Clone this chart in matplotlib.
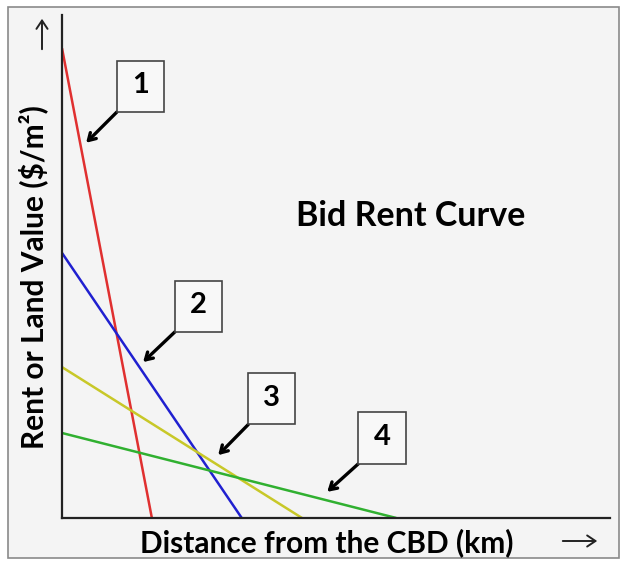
import matplotlib.pyplot as plt
from matplotlib.patches import Rectangle, FancyArrowPatch

# bid rent lines: intercept on the rent axis and on the distance axis
labels = ['1', '2', '3', '4']
colors = ['#e03030', '#2020d0', '#c8c828', '#30b030']
rent_at_cbd = [9.34, 5.27, 3.0, 1.69]
max_distance = [1.64, 3.28, 4.38, 6.1]

# numbered boxes (centre) and where their arrows point
box_x = [1.43, 2.49, 3.83, 5.84]
box_y = [8.58, 4.21, 2.37, 1.59]
tip_x = [0.44, 1.48, 2.85, 4.84]
tip_y = [7.46, 3.10, 1.25, 0.52]
box_w, box_h = 0.86, 1.02

plt.rcParams['font.family'] = ['Lato', 'DejaVu Sans']

fig = plt.figure(figsize=(6.26, 5.67), dpi=100)
fig.patch.set_facecolor('white')
fig.patches.append(Rectangle((8/626, 9/567), 611/626, 551/567, transform=fig.transFigure,
                             facecolor='#f4f4f4', edgecolor='#8a8a8a', lw=1.2, zorder=-10))

ax = fig.add_axes([62/626, 49/567, 548/626, 503/567])
ax.set_facecolor('none')
ax.set_xlim(0, 10)
ax.set_ylim(0, 10)
for s in ['top', 'right']:
    ax.spines[s].set_visible(False)
for s in ['left', 'bottom']:
    ax.spines[s].set_color('#222222')
    ax.spines[s].set_linewidth(1.6)
ax.set_xticks([])
ax.set_yticks([])

for c, r, d in zip(colors, rent_at_cbd, max_distance):
    ax.plot([0, d], [r, 0], color=c, lw=1.8, solid_capstyle='butt')

for lab, bx, by, tx, ty in zip(labels, box_x, box_y, tip_x, tip_y):
    ax.add_patch(Rectangle((bx - box_w/2, by - box_h/2), box_w, box_h,
                           facecolor='#f8f8f8', edgecolor='#444444', lw=1.2, zorder=5))
    ax.text(bx, by + 0.02, lab, ha='center', va='center', fontsize=21, fontweight='bold', zorder=6)
    ax.annotate('', xy=(tx, ty), xytext=(bx - box_w/2, by - box_h/2),
                arrowprops=dict(arrowstyle='->, head_length=0.5, head_width=0.3',
                                color='black', lw=2.4, shrinkA=0, shrinkB=0))

ax.text(0.636, 0.60, 'Bid Rent Curve', transform=ax.transAxes, ha='center', va='center',
        fontsize=24.5, fontweight='bold')

fig.text(327/626, 1 - 543/567, 'Distance from the CBD (km)', ha='center', va='center',
         fontsize=21.5, fontweight='bold')
fig.text(33/626, 1 - 277/567, 'Rent or Land Value ($/m²)', ha='center', va='center',
         rotation=90, fontsize=21.5, fontweight='bold')

# direction arrows beside the axis titles
fig.patches.append(FancyArrowPatch(
    (42/626, 1 - 52/567), (42/626, 1 - 16/567), transform=fig.transFigure,
    arrowstyle='->, head_length=6, head_width=4', color='#222222', lw=1.4))
fig.patches.append(FancyArrowPatch(
    (560/626, 1 - 541/567), (600/626, 1 - 541/567), transform=fig.transFigure,
    arrowstyle='->, head_length=6, head_width=4', color='#222222', lw=1.4))

fig.savefig('out.png', dpi=100)
